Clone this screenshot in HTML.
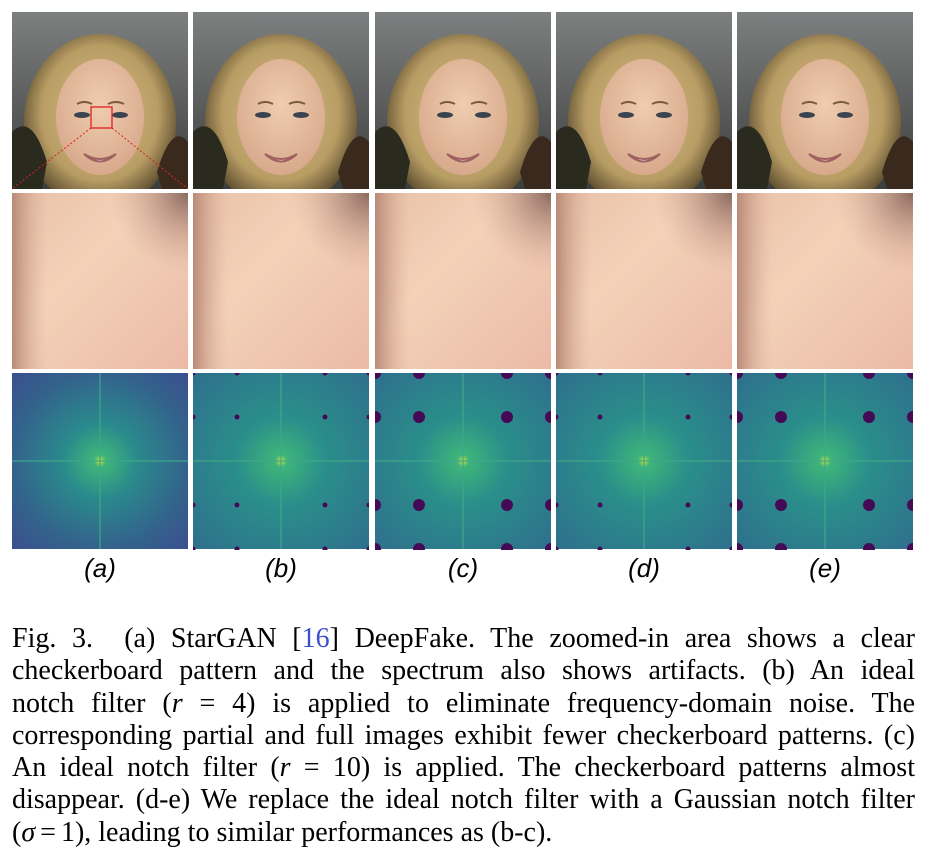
<!DOCTYPE html>
<html><head><meta charset="utf-8">
<style>
html,body{margin:0;padding:0;background:#fff;width:925px;height:861px;overflow:hidden;position:relative}
.p{position:absolute;width:176px;height:177px}
.lab{position:absolute;top:553px;width:176px;text-align:center;font:italic 26px "Liberation Sans","DejaVu Sans",sans-serif;color:#000}
.cap{position:absolute;left:12px;top:623px;width:903px;font:28px/32.3px "Liberation Serif",serif;color:#000}
.cap div{text-align:justify;text-align-last:justify;white-space:nowrap}
.cap div.last{text-align-last:left}
i.m{font-style:italic}
.eq{padding:0 5px}
</style></head><body>
<svg width="0" height="0" style="position:absolute">
<defs>
<linearGradient id="bg" x1="0" y1="0" x2="0" y2="1"><stop offset="0" stop-color="#7d8080"/><stop offset="1" stop-color="#3c3e3c"/></linearGradient>
<radialGradient id="hair" cx="0.5" cy="0.45" r="0.55"><stop offset="0" stop-color="#d9c48e"/><stop offset="0.7" stop-color="#b79c63"/><stop offset="1" stop-color="#5a4a2e"/></radialGradient>
<radialGradient id="face" cx="0.5" cy="0.4" r="0.6"><stop offset="0" stop-color="#f0cdb0"/><stop offset="1" stop-color="#d8a98c"/></radialGradient>
<linearGradient id="skin" x1="0" y1="0" x2="1" y2="1"><stop offset="0" stop-color="#e8c0a8"/><stop offset="0.4" stop-color="#f3d2b8"/><stop offset="1" stop-color="#ebbaa6"/></linearGradient>
<radialGradient id="corner" cx="1" cy="0" r="0.45"><stop offset="0" stop-color="#8a6a60"/><stop offset="1" stop-color="#d4a592" stop-opacity="0"/></radialGradient>
<linearGradient id="ledge" x1="0" y1="0" x2="1" y2="0"><stop offset="0" stop-color="#b88a78"/><stop offset="0.2" stop-color="#e0b29c" stop-opacity="0"/></linearGradient>
<radialGradient id="spec" cx="0.5" cy="0.5" r="0.7"><stop offset="0" stop-color="#c8e03a"/><stop offset="0.05" stop-color="#3eb47a"/><stop offset="0.3" stop-color="#2a8a8c"/><stop offset="0.7" stop-color="#33638c"/><stop offset="1" stop-color="#3b4f8e"/></radialGradient>
<radialGradient id="specb" cx="0.5" cy="0.5" r="0.7"><stop offset="0" stop-color="#c8e03a"/><stop offset="0.05" stop-color="#3eb47a"/><stop offset="0.35" stop-color="#2a8f8a"/><stop offset="1" stop-color="#2f6f8d"/></radialGradient>
</defs></svg>
<div id="fig"></div>
<div class="cap">
<div>Fig. 3. &nbsp;(a) StarGAN [<span style="color:#3a4fd0">16</span>] DeepFake. The zoomed-in area shows a clear</div>
<div>checkerboard pattern and the spectrum also shows artifacts. (b) An ideal</div>
<div>notch filter (<i class="m">r</i> = 4) is applied to eliminate frequency-domain noise. The</div>
<div>corresponding partial and full images exhibit fewer checkerboard patterns. (c)</div>
<div>An ideal notch filter (<i class="m">r</i> = 10) is applied. The checkerboard patterns almost</div>
<div>disappear. (d-e) We replace the ideal notch filter with a Gaussian notch filter</div>
<div class="last">(<i class="m">σ</i><span class="eq">=</span>1), leading to similar performances as (b-c).</div>
</div>
<script>
const labels=['(a)','(b)','(c)','(d)','(e)'];
const dotR=[0,2.5,6,2.5,6];
const colX=[12,193,375,556,737];
const rowY=[12,193,373];
const fig=document.getElementById('fig');
function face(i){return `<rect width="176" height="177" fill="url(#bg)"/>
<ellipse cx="88" cy="110" rx="76" ry="88" fill="url(#hair)"/>
<path d="M0 120 Q20 100 35 150 L30 177 L0 177Z" fill="#2a2a1e"/>
<path d="M176 130 Q160 110 145 160 L150 177 L176 177Z" fill="#3a2a1e"/>
<ellipse cx="88" cy="105" rx="44" ry="58" fill="url(#face)"/>
<ellipse cx="70" cy="103" rx="8" ry="3" fill="#3a4450"/><ellipse cx="108" cy="103" rx="8" ry="3" fill="#3a4450"/>
<path d="M72 142 Q88 152 104 142 Q88 157 72 142Z" fill="#f0f0ea" stroke="#a06060" stroke-width="2"/>
<path d="M65 92 Q72 88 80 92" stroke="#7a5a40" stroke-width="2" fill="none"/><path d="M96 92 Q104 88 112 92" stroke="#7a5a40" stroke-width="2" fill="none"/>
${i==0?'<rect x="79" y="95" width="21" height="21" fill="none" stroke="#e02020" stroke-width="1.3"/><line x1="79" y1="116" x2="0" y2="177" stroke="#e02020" stroke-dasharray="2 2"/><line x1="100" y1="116" x2="176" y2="177" stroke="#e02020" stroke-dasharray="2 2"/>':''}`;}
function zoom(){return `<rect width="176" height="176" fill="url(#skin)"/><rect width="176" height="176" fill="url(#ledge)"/><rect width="176" height="176" fill="url(#corner)"/>`;}
function spec(i){let s=`<rect width="176" height="176" fill="url(#${i==0?'spec':'specb'})"/><line x1="88" y1="0" x2="88" y2="176" stroke="#3fa88a" stroke-width="2" opacity="0.6"/><line x1="0" y1="88" x2="176" y2="88" stroke="#3fa88a" stroke-width="2" opacity="0.6"/>`;
 if(dotR[i]>0){[0,44,132,176].forEach(x=>[0,44,132,176].forEach(y=>{s+=`<circle cx="${x}" cy="${y}" r="${dotR[i]}" fill="#440a55"/>`;}));}
 return s;}
labels.forEach((l,i)=>{
 [face(i),zoom(),spec(i)].forEach((c,r)=>{
  const d=document.createElement('div');d.className='p';
  d.style.left=colX[i]+'px';d.style.top=rowY[r]+'px';
  
  
  d.innerHTML=`<svg width="176" height="177" viewBox="0 0 176 177">${c}</svg>`;
  fig.appendChild(d);
 });
 const t=document.createElement('div');t.className='lab';t.style.left=colX[i]+'px';t.textContent=l;
 
 
 fig.appendChild(t);
});
</script>
</body></html>
